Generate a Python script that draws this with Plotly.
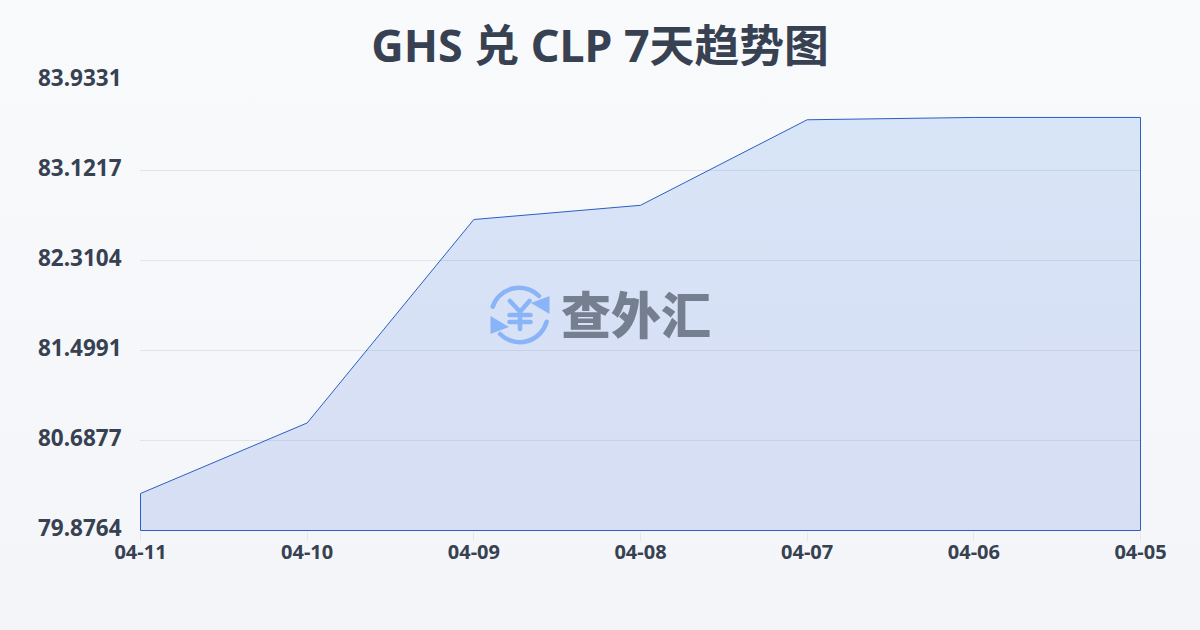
import plotly.graph_objects as go
import base64

dates = ["04-11", "04-10", "04-09", "04-08", "04-07", "04-06", "04-05"]
rates = [80.2100, 80.8460, 82.6800, 82.8080, 83.5790, 83.6000, 83.6000]
y_ticks = [79.8764, 80.6877, 81.4991, 82.3104, 83.1217, 83.9331]
y_labels = ["79.8764", "80.6877", "81.4991", "82.3104", "83.1217", "83.9331"]
title = "GHS 兑 CLP 7天趋势图"
y_min, y_max = 79.8764, 83.9331

bg_svg = ('<svg xmlns="http://www.w3.org/2000/svg" width="1200" height="630">'
          '<defs><linearGradient id="g" x1="0" y1="0" x2="0" y2="1">'
          '<stop offset="0" stop-color="#f9fafc"/><stop offset="1" stop-color="#f3f5f8"/>'
          '</linearGradient></defs><rect width="1200" height="630" fill="url(#g)"/></svg>')
icon_svg = ('<svg xmlns="http://www.w3.org/2000/svg" width="62" height="62" viewBox="0 0 62 62">'
            '<g fill="none" stroke="#8ab4f8" stroke-width="4.5" stroke-linecap="round">'
            '<path d="M3.7 21.7 A28 28 0 0 1 50 11"/><path d="M57.7 36.7 A28 28 0 0 1 11 49"/>'
            '<path d="M21 16 L31 26.7 L40.5 16 M31 26.7 V44 M20.5 30 H41.5 M20.5 37 H41.5" stroke-width="4.6"/></g>'
            '<path d="M60.5 11 V29 L42 18 Z M1.5 49 V31 L20 42 Z" fill="#8ab4f8"/></svg>')

def uri(s):
    return "data:image/svg+xml;base64," + base64.b64encode(s.encode()).decode()

font = "Noto Sans, Noto Sans CJK SC, sans-serif"
x_idx = list(range(len(dates)))
# half-pixel padding keeps the 1px lines crisp, like the reference
x_pad = 0.5 * (len(dates) - 1) / 1000
y_pad = 0.5 * (y_max - y_min) / 450

fig = go.Figure()
fig.add_trace(go.Scatter(
    x=x_idx + [x_idx[-1], x_idx[0], x_idx[0]],
    y=rates + [y_min, y_min, rates[0]],
    mode="lines", fill="toself", cliponaxis=False,
    line=dict(color="#2a5fc6", width=1),
    fillgradient=dict(type="vertical", colorscale=[[0, "rgba(37,80,215,0.14)"], [1, "rgba(50,120,225,0.16)"]]),
    hoverinfo="skip", showlegend=False))

fig.update_layout(
    width=1200, height=630, autosize=False,
    margin=dict(l=140, r=59, t=80, b=99, pad=0),
    paper_bgcolor="rgba(0,0,0,0)", plot_bgcolor="rgba(0,0,0,0)",
    font=dict(family=font, color="#374151"),
    title=dict(text=f"<b>{title}</b>", x=0.5, xanchor="center", y=0.927, yanchor="middle",
               font=dict(size=44.8, color="#374151", family=font)),
    xaxis=dict(range=[x_idx[0] - x_pad, x_idx[-1] + x_pad], tickmode="array", tickvals=x_idx,
               ticktext=[f"<b>{d}</b>" for d in dates],
               tickfont=dict(size=20, color="#374151"), showgrid=False, zeroline=False, showline=False,
               ticks="outside", ticklen=9, tickcolor="#e5e7eb", tickwidth=1, ticklabelstandoff=-6),
    yaxis=dict(range=[y_min - y_pad, y_max + y_pad], tickmode="array", tickvals=y_ticks,
               ticktext=[f"<b>{t}</b>" for t in y_labels],
               tickfont=dict(size=22.5, color="#374151"), showgrid=True, gridcolor="rgba(200,205,215,0.45)",
               gridwidth=1, zeroline=False, showline=False, ticks="outside", ticklen=13,
               tickcolor="rgba(0,0,0,0)", ticklabelshift=-2),
    images=[
        dict(source=uri(bg_svg), xref="paper", yref="paper", x=-140/1001, y=1+80/451, sizex=1200/1001,
             sizey=630/451, xanchor="left", yanchor="top", layer="below", sizing="stretch"),
        dict(source=uri(icon_svg), xref="paper", yref="paper", x=(489-140)/1001, y=(531-285)/451,
             sizex=62/1001, sizey=62/451, xanchor="left", yanchor="top", layer="above", sizing="stretch"),
    ],
    annotations=[dict(text="查外汇", xref="paper", yref="paper", x=(636-140)/1001, y=(531-312)/451,
                      xanchor="center", yanchor="middle", showarrow=False,
                      font=dict(size=50, color="#757f90", family="Noto Sans CJK SC", weight=900))],
)
fig.write_html("out.html", config={"displayModeBar": False}, post_script="document.body.style.margin='0';")
